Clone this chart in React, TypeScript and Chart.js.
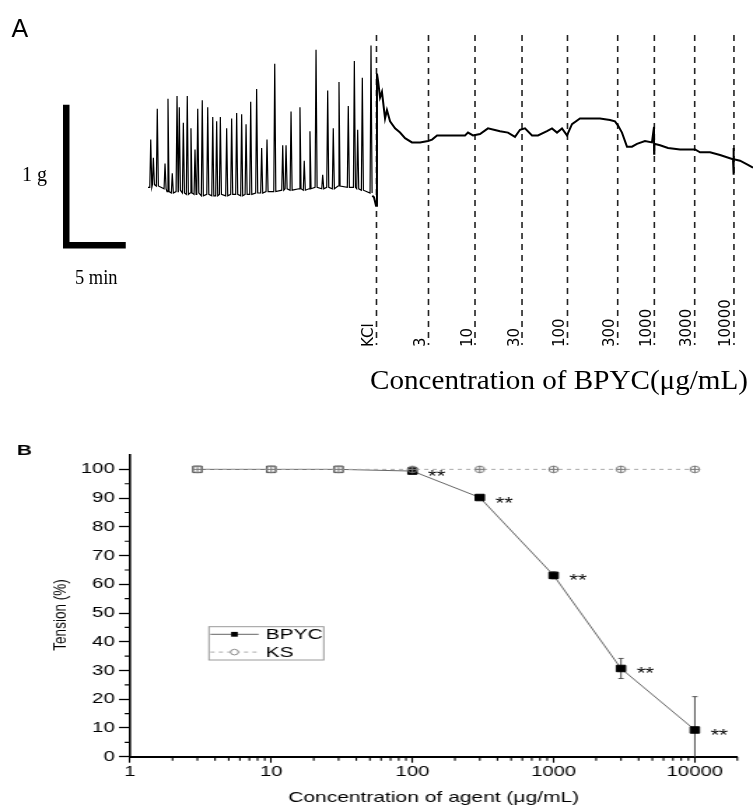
import React, { useEffect, useRef } from "react";
import { Chart, registerables } from "chart.js";
Chart.register(...registerables);

// ---------------- Panel A data (time in min, tension in g) ----------------
const DOSE_LABELS = ["KCl", "3", "10", "30", "100", "300", "1000", "3000", "10000"];
const DOSE_TIMES = [19.2, 23.57, 27.48, 31.43, 35.25, 39.47, 42.55, 45.94, 49.24];

const SPIKE_TIMES = [0.23, 0.45, 0.78, 1.43, 1.68, 2.04, 2.44, 2.63, 2.97, 3.3, 3.61, 3.95, 4.18, 4.56, 5.02, 5.44, 5.77, 6.08, 6.61, 7.03, 7.45, 7.87, 8.24, 8.63, 9.13, 9.55, 10.0, 10.65, 11.32, 11.6, 12.02, 12.77, 13.13, 13.61, 14.12, 14.68, 15.1, 15.57, 16.05, 16.83, 17.34, 17.62, 18.01, 18.74];
const SPIKE_PEAKS = [0.38, 0.25, 0.6, 0.21, 0.67, 0.14, 0.69, 0.61, 0.5, 0.69, 0.46, 0.31, 0.6, 0.66, 0.61, 0.54, 0.51, 0.54, 0.46, 0.53, 0.57, 0.56, 0.49, 0.65, 0.74, 0.32, 0.38, 0.92, 0.34, 0.34, 0.58, 0.61, 0.23, 0.44, 1.02, 0.13, 0.73, 0.46, 0.79, 0.62, 0.94, 0.45, 0.82, 1.05];
const SPIKE_BASES = [0.04, 0.06, 0.05, 0.03, 0.01, 0.0, 0.01, 0.02, 0.0, -0.01, 0.0, -0.01, 0.0, -0.02, -0.01, -0.02, -0.02, -0.01, -0.02, -0.01, -0.01, -0.02, -0.01, -0.01, 0.0, 0.0, 0.01, 0.01, 0.02, 0.03, 0.02, 0.03, 0.02, 0.03, 0.04, 0.03, 0.04, 0.03, 0.05, 0.04, 0.04, 0.03, 0.02, 0.0];

const KCL_T = [18.85, 18.99, 19.16, 19.24, 19.33, 19.5, 19.66, 19.92, 20.08, 20.34, 20.76, 21.18, 21.6, 22.18, 22.86, 23.53, 23.87, 24.29, 26.64, 26.89, 27.31, 27.9, 28.57, 29.58, 30.25, 30.84, 31.26, 31.68, 32.27, 32.77, 33.53, 33.95, 34.37, 34.79, 35.21, 35.63, 36.3, 37.98, 38.82, 39.24, 39.5, 39.83, 40.25, 40.67, 41.09, 41.76, 42.35, 42.52, 42.53, 42.55, 43.03, 43.7, 44.71, 45.97, 46.39, 47.23, 48.07, 49.16, 49.2, 49.21, 49.23, 49.75, 50.42, 50.84];
const KCL_G = [-0.02, -0.03, -0.09, 0.85, 0.8, 0.68, 0.72, 0.53, 0.59, 0.51, 0.46, 0.43, 0.39, 0.36, 0.36, 0.37, 0.38, 0.41, 0.41, 0.43, 0.41, 0.42, 0.46, 0.44, 0.43, 0.4, 0.45, 0.46, 0.41, 0.41, 0.44, 0.46, 0.43, 0.46, 0.41, 0.49, 0.53, 0.53, 0.52, 0.51, 0.48, 0.43, 0.33, 0.33, 0.35, 0.37, 0.36, 0.47, 0.28, 0.35, 0.34, 0.32, 0.31, 0.31, 0.29, 0.29, 0.27, 0.24, 0.32, 0.13, 0.24, 0.23, 0.2, 0.18];

const SCALE_BAR_MIN = 5; // 5 min
const SCALE_BAR_G = 1; // 1 g

// ---------------- Panel B data ----------------
const CONC = [3, 10, 30, 100, 300, 1000, 3000, 10000];
const BPYC = [100, 100, 100, 99.4, 90.2, 63.1, 30.7, 9.3];
const BPYC_ERR = [0, 0, 0, 0.6, 0.6, 1.2, 3.5, 11.6];
const KS = [100, 100, 100, 100, 100, 100, 100, 100];
const SIG = ["", "", "", "**", "**", "**", "**", "**"];
const X_TICKS = [1, 10, 100, 1000, 10000];
const X_TICK_LABELS = ["1", "10", "100", "1000", "10000"];
const X_MINOR = [2, 3, 4, 5, 6, 7, 8, 9, 20, 30, 40, 50, 60, 70, 80, 90, 200, 300, 400, 500, 600, 700, 800, 900, 2000, 3000, 4000, 5000, 6000, 7000, 8000, 9000, 20000];
const Y_TICKS = [0, 10, 20, 30, 40, 50, 60, 70, 80, 90, 100];
const Y_TICK_LABELS = ["0", "10", "20", "30", "40", "50", "60", "70", "80", "90", "100"];
const Y_MINOR = [5, 15, 25, 35, 45, 55, 65, 75, 85, 95];

// style (not data): hollow squares where BPYC coincides with KS
const BPYC_HOLLOW = [true, true, true, false, false, false, false, false];

const SANS = '"Liberation Sans", Arial, sans-serif';
const SERIF = '"Liberation Serif", "Times New Roman", serif';

function ksMarker(): HTMLCanvasElement {
  const c = document.createElement("canvas");
  c.width = 9;
  c.height = 9;
  const g = c.getContext("2d")!;
  g.strokeStyle = "#7a7a7a";
  g.lineWidth = 1;
  g.beginPath();
  g.arc(4.5, 4.5, 3.3, 0, Math.PI * 2);
  g.stroke();
  g.beginPath();
  g.moveTo(4.5, 1.0);
  g.lineTo(4.5, 8.0);
  g.moveTo(1.0, 4.5);
  g.lineTo(8.0, 4.5);
  g.stroke();
  return c;
}

function fitText(ctx: CanvasRenderingContext2D, text: string, x: number, y: number, width: number) {
  const w = ctx.measureText(text).width;
  ctx.save();
  ctx.translate(x, y);
  ctx.scale(width / w, 1);
  ctx.fillText(text, 0, 0);
  ctx.restore();
}

export default function App() {
  const refA = useRef<HTMLCanvasElement>(null);
  const refB = useRef<HTMLCanvasElement>(null);

  useEffect(() => {
    Chart.defaults.font.family = SANS;

    // ---------- Panel A ----------
    const pre: { x: number; y: number }[] = [{ x: 0, y: SPIKE_BASES[0] }];
    SPIKE_TIMES.forEach((t, i) => {
      pre.push({ x: t - 0.08, y: SPIKE_BASES[i] });
      pre.push({ x: t, y: SPIKE_PEAKS[i] });
      pre.push({ x: t + 0.09, y: SPIKE_BASES[i] });
    });
    const post = KCL_T.map((t, i) => ({ x: t, y: KCL_G[i] }));
    const DOSE_TOP = 1.125;
    const DOSE_BOTTOM = -1.082;
    const dose: { x: number; y: number | null }[] = [];
    DOSE_TIMES.forEach((t) => {
      dose.push({ x: t, y: DOSE_TOP });
      dose.push({ x: t, y: DOSE_BOTTOM });
      dose.push({ x: t, y: null });
    });
    const SB_X = -6.87;
    const SB_Y = -0.372;
    const bar = [
      { x: SB_X, y: SB_Y + SCALE_BAR_G },
      { x: SB_X, y: SB_Y },
      { x: SB_X + SCALE_BAR_MIN, y: SB_Y },
    ];

    const textA = {
      id: "textA",
      afterDatasetsDraw(chart: any) {
        const ctx = chart.ctx as CanvasRenderingContext2D;
        const xs = chart.scales.x;
        ctx.save();
        ctx.fillStyle = "#000";
        ctx.font = `15px "DejaVu Sans", Verdana, sans-serif`;
        ctx.textAlign = "left";
        ctx.textBaseline = "alphabetic";
        DOSE_LABELS.forEach((lab, i) => {
          const px = xs.getPixelForValue(DOSE_TIMES[i]);
          ctx.save();
          ctx.translate(px - 3.5, 347);
          ctx.rotate(-Math.PI / 2);
          ctx.fillText(lab, 0, 0);
          ctx.restore();
        });
        ctx.font = `25px ${SANS}`;
        ctx.fillText("A", 11.5, 36.5);
        ctx.font = `20px ${SERIF}`;
        ctx.fillText("1 g", 22, 180.5);
        ctx.font = `22px ${SERIF}`;
        fitText(ctx, "5 min", 75, 283.5, 42.5);
        ctx.font = `28px ${SERIF}`;
        fitText(ctx, "Concentration of BPYC(\u03bcg/mL)", 370, 389, 378);
        ctx.restore();
      },
    };

    const chartA = new Chart(refA.current!, {
      type: "line",
      data: {
        datasets: [
          { data: pre, borderColor: "#000", borderWidth: 1.2, pointRadius: 0, tension: 0 },
          { data: post, borderColor: "#000", borderWidth: 2, pointRadius: 0, tension: 0 },
          { data: dose, borderColor: "#222", borderWidth: 1.6, borderDash: [6, 5], pointRadius: 0, spanGaps: false },
          {
            data: bar,
            borderColor: "#000",
            borderWidth: 6.5,
            pointRadius: 0,
            borderJoinStyle: "miter",
            borderCapStyle: "butt",
          },
        ] as any,
      },
      options: {
        responsive: false,
        animation: false,
        events: [],
        layout: { padding: 0 },
        plugins: { legend: { display: false }, tooltip: { enabled: false } },
        scales: {
          x: { type: "linear", display: false, min: -12.437, max: 50.84 },
          y: { type: "linear", display: false, min: -1.6157, max: 1.3737 },
        },
      },
      plugins: [textA],
    });

    // ---------- Panel B ----------
    const ks = ksMarker();
    const decorB = {
      id: "decorB",
      beforeDatasetsDraw(chart: any) {
        const ctx = chart.ctx as CanvasRenderingContext2D;
        const xs = chart.scales.x;
        const ys = chart.scales.y;
        const ca = chart.chartArea;
        ctx.save();
        ctx.strokeStyle = "#555";
        ctx.lineWidth = 1;
        CONC.forEach((c, i) => {
          const e = BPYC_ERR[i];
          if (!e) return;
          const x = xs.getPixelForValue(c);
          const hi = ys.getPixelForValue(BPYC[i] + e);
          const loV = BPYC[i] - e;
          const lo = loV < 0 ? ca.bottom : ys.getPixelForValue(loV);
          ctx.beginPath();
          ctx.moveTo(x, hi);
          ctx.lineTo(x, lo);
          ctx.moveTo(x - 1.9, hi);
          ctx.lineTo(x + 1.9, hi);
          if (loV >= 0) {
            ctx.moveTo(x - 1.9, lo);
            ctx.lineTo(x + 1.9, lo);
          }
          ctx.stroke();
        });
        ctx.restore();
      },
      afterDraw(chart: any) {
        const ctx = chart.ctx as CanvasRenderingContext2D;
        const xs = chart.scales.x;
        const ys = chart.scales.y;
        const ca = chart.chartArea;
        ctx.save();
        // minor ticks
        ctx.strokeStyle = "#000";
        ctx.lineWidth = 1.1;
        ctx.beginPath();
        Y_MINOR.forEach((v) => {
          const y = ys.getPixelForValue(v);
          ctx.moveTo(ca.left, y);
          ctx.lineTo(ca.left - 3.8, y);
        });
        X_MINOR.forEach((v) => {
          const x = xs.getPixelForValue(v);
          ctx.moveTo(x, ca.bottom);
          ctx.lineTo(x, ca.bottom + 4);
        });
        ctx.stroke();

        // significance marks
        ctx.fillStyle = "#000";
        ctx.font = `16px ${SANS}`;
        ctx.textAlign = "left";
        ctx.textBaseline = "alphabetic";
        CONC.forEach((c, i) => {
          if (!SIG[i]) return;
          ctx.fillText(SIG[i], xs.getPixelForValue(c) + 11.2, ys.getPixelForValue(BPYC[i]) + 11);
        });

        // legend
        const bx = ca.left + 56.4;
        const by = ca.top + 171.7;
        ctx.strokeStyle = "#9a9a9a";
        ctx.lineWidth = 1;
        ctx.strokeRect(bx, by, 82, 33.3);
        const r1 = by + 7.6;
        const r2 = by + 25.4;
        ctx.strokeStyle = "#666";
        ctx.beginPath();
        ctx.moveTo(bx + 1, r1);
        ctx.lineTo(bx + 35.5, r1);
        ctx.stroke();
        ctx.fillStyle = "#000";
        ctx.fillRect(bx + 18.2 - 2.4, r1 - 2.4, 4.8, 4.8);
        ctx.strokeStyle = "#aaa";
        ctx.setLineDash([3, 3]);
        ctx.beginPath();
        ctx.moveTo(bx + 1, r2);
        ctx.lineTo(bx + 35.5, r2);
        ctx.stroke();
        ctx.setLineDash([]);
        ctx.fillStyle = "#fff";
        ctx.strokeStyle = "#888";
        ctx.beginPath();
        ctx.arc(bx + 18.2, r2, 2.8, 0, Math.PI * 2);
        ctx.fill();
        ctx.stroke();
        ctx.fillStyle = "#000";
        ctx.font = `15px ${SANS}`;
        ctx.textBaseline = "middle";
        ctx.fillText("BPYC", bx + 40.5, r1 + 0.5);
        ctx.fillText("KS", bx + 40.5, r2 + 0.5);

        // axis titles
        ctx.font = `15px ${SANS}`;
        ctx.textAlign = "center";
        ctx.fillText("Concentration of agent (\u03bcg/mL)", (ca.left + ca.right) / 2, 358);
        ctx.save();
        ctx.translate(42.8, 175);
        ctx.rotate(-Math.PI / 2);
        ctx.font = `13.5px ${SANS}`;
        ctx.fillText("Tension (%)", 0, 0);
        ctx.restore();

        // panel letter
        ctx.textAlign = "left";
        ctx.textBaseline = "alphabetic";
        ctx.font = `bold 15px ${SANS}`;
        ctx.fillText("B", 11.9, 15);
        ctx.restore();
      },
    };

    const tickFont = { family: SANS, size: 14.5 };
    const chartB = new Chart(refB.current!, {
      type: "line",
      data: {
        datasets: [
          {
            label: "KS",
            data: CONC.map((c, i) => ({ x: c, y: KS[i] })),
            borderColor: "#aaa",
            borderWidth: 1,
            borderDash: [3, 3],
            pointStyle: ks,
            pointRadius: 4,
            tension: 0,
            order: 0,
          },
          {
            label: "BPYC",
            data: CONC.map((c, i) => ({ x: c, y: BPYC[i] })),
            borderColor: "#666",
            borderWidth: 1,
            pointStyle: "rect",
            pointRadius: 4.6,
            pointBackgroundColor: BPYC_HOLLOW.map((h) => (h ? "#fff" : "#000")),
            pointBorderColor: BPYC_HOLLOW.map((h) => (h ? "#444" : "#000")),
            pointBorderWidth: 1,
            tension: 0,
            order: 1,
          },
        ] as any,
      },
      options: {
        responsive: false,
        animation: false,
        events: [],
        layout: { autoPadding: false, padding: { left: 0, right: 11.2, top: 15, bottom: 0 } },
        plugins: { legend: { display: false }, tooltip: { enabled: false } },
        scales: {
          x: {
            type: "logarithmic",
            min: 1,
            max: 20000,
            border: { display: true, color: "#000", width: 2 },
            grid: { display: true, drawOnChartArea: false, drawTicks: true, tickLength: 6, tickColor: "#000", tickWidth: 1.1, color: "#000" },
            ticks: {
              font: tickFont,
              color: "#000",
              padding: 1,
              autoSkip: false,
              maxRotation: 0,
              minRotation: 0,
              callback: (_v: any, i: number) => X_TICK_LABELS[i],
            },
            afterBuildTicks: (s: any) => {
              s.ticks = X_TICKS.map((v) => ({ value: v }));
            },
            afterFit: (s: any) => {
              s.height = 48.3;
            },
          },
          y: {
            type: "linear",
            min: 0,
            max: 105,
            border: { display: true, color: "#000", width: 1.6 },
            grid: { display: true, drawOnChartArea: false, drawTicks: true, tickLength: 7.9, tickColor: "#000", tickWidth: 1.3, color: "#000" },
            ticks: {
              font: tickFont,
              color: "#000",
              padding: 3,
              autoSkip: false,
              callback: (_v: any, i: number) => Y_TICK_LABELS[i],
            },
            afterBuildTicks: (s: any) => {
              s.ticks = Y_TICKS.map((v) => ({ value: v }));
            },
            afterFit: (s: any) => {
              s.width = 92.9;
            },
          },
        } as any,
      },
      plugins: [decorB],
    });

    return () => {
      chartA.destroy();
      chartB.destroy();
    };
  }, []);

  return (
    <div style={{ position: "absolute", left: 0, top: 0, width: 753, height: 805, background: "#fff", overflow: "hidden" }}>
      <canvas ref={refA} width={753} height={420} style={{ position: "absolute", left: 0, top: 0, width: "753px", height: "420px" }} />
      <canvas ref={refB} width={538} height={365} style={{ position: "absolute", left: 0, top: 440, width: "753px", height: "365px" }} />
    </div>
  );
}
